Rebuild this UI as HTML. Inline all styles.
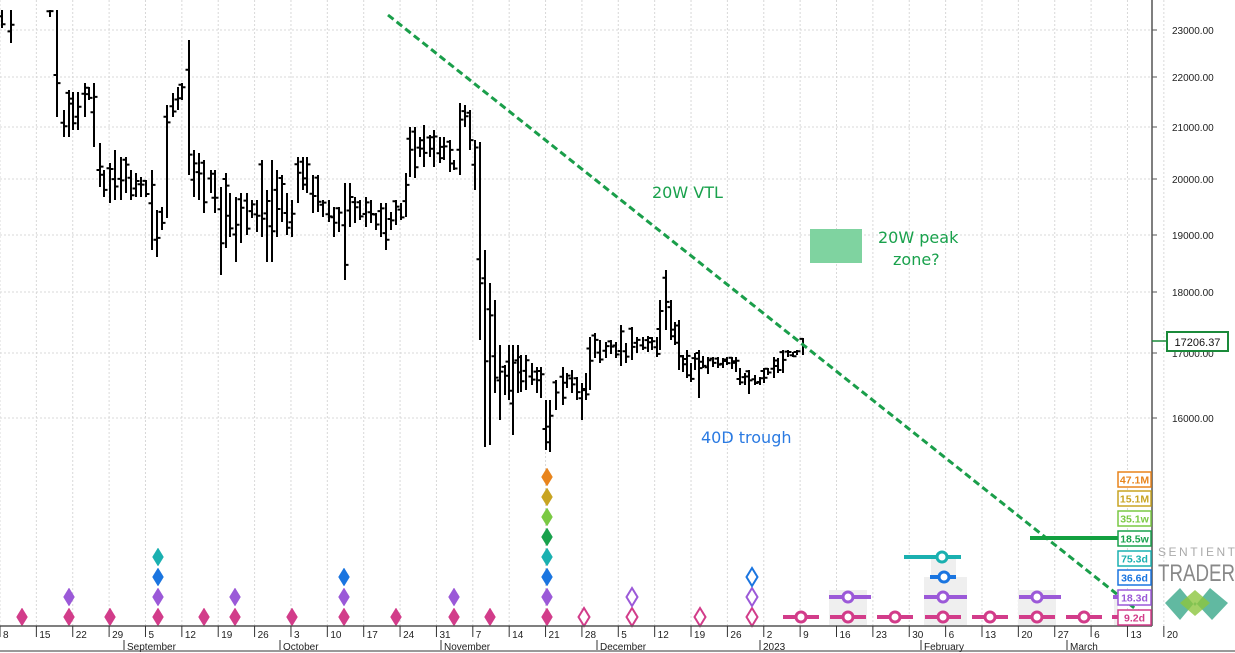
<!DOCTYPE html>
<html><head><meta charset="utf-8"><style>
html,body{margin:0;padding:0;background:#fff;}
svg{display:block;font-family:"Liberation Sans",sans-serif;}
.an{font-family:"DejaVu Sans","Liberation Sans",sans-serif;font-size:16px;}
</style></head><body>
<svg id="s" width="1235" height="653" viewBox="0 0 1235 653" xmlns="http://www.w3.org/2000/svg">
<defs><clipPath id="pc"><rect x="0" y="10" width="1152" height="616"/></clipPath></defs>
<g id="grid"></g>
<g id="shade" fill="#efefef"></g>
<rect x="810" y="229" width="52" height="34" fill="#7fd3a0"/>
<g id="bars" clip-path="url(#pc)" stroke="#000" stroke-width="2" fill="none"></g>
<line x1="388" y1="15" x2="1152" y2="622" stroke="#1a9e4a" stroke-width="3" stroke-dasharray="7,4"/>
<text class="an" x="652" y="198" fill="#19a14c">20W VTL</text>
<text class="an" x="878" y="243" fill="#19a14c">20W peak</text>
<text class="an" x="893" y="265" fill="#19a14c">zone?</text>
<text class="an" x="701" y="443" fill="#2a7ae2">40D trough</text>
<g id="cyc"></g>
<line x1="1030" y1="538" x2="1118" y2="538" stroke="#12a040" stroke-width="4"/>
<line x1="1152" y1="0" x2="1152" y2="626" stroke="#555" stroke-width="1.5"/>
<line x1="0" y1="626" x2="1152" y2="626" stroke="#555" stroke-width="1.5"/>
<line x1="0" y1="651" x2="1235" y2="651" stroke="#999" stroke-width="2"/>
<g id="axis" font-size="10" fill="#222"></g>
<line x1="1152" y1="341" x2="1167" y2="341" stroke="#1a8a3a" stroke-width="1.5"/>
<rect x="1167" y="332" width="61" height="19" fill="#fff" stroke="#1a8a3a" stroke-width="2"/>
<text x="1197.5" y="346" font-size="11" text-anchor="middle" fill="#111">17206.37</text>
<g id="labs" font-size="10.5" font-weight="bold" text-anchor="middle"></g>
<text x="1158" y="556" font-size="12" fill="#aaa" textLength="77">SENTIENT</text>
<text x="1158" y="581" font-size="24" fill="#888" textLength="77" lengthAdjust="spacingAndGlyphs">TRADER</text>
<polygon points="1165,603 1180,588 1195,606 1210,588 1228,603 1212,620 1195,602 1180,620" fill="#3aa88a" opacity="0.8"/>
<polygon points="1180,603 1195,590 1210,603 1195,616" fill="#8cc63f" opacity="0.8"/>
</svg>
<script>
const NS="http://www.w3.org/2000/svg";
function el(p,t,a,txt){const e=document.createElementNS(NS,t);for(const k in a)e.setAttribute(k,a[k]);if(txt!==undefined)e.textContent=txt;document.getElementById(p).appendChild(e);return e;}
const W=36.37;
for(let i=0;i<=32;i++){const x=i*W;el('grid','line',{x1:x,y1:0,x2:x,y2:626,stroke:'#d8d8d8','stroke-dasharray':'2,2','stroke-width':1});}
const lv=[[23000,30],[22000,77],[21000,127],[20000,179],[19000,235],[18000,292],[17000,353],[16000,418]];
lv.forEach(([v,y])=>{el('grid','line',{x1:0,y1:y,x2:1152,y2:y,stroke:'#d8d8d8','stroke-dasharray':'2,2'});
el('axis','line',{x1:1152,y1:y,x2:1157,y2:y,stroke:'#555'});
el('axis','text',{x:1172,y:y+4},v.toFixed(2));});
const days=['8','15','22','29','5','12','19','26','3','10','17','24','31','7','14','21','28','5','12','19','26','2','9','16','23','30','6','13','20','27','6','13','20'];
days.forEach((d,i)=>{const x=i*W;el('axis','line',{x1:x,y1:626,x2:x,y2:637,stroke:'#333'});el('axis','text',{x:x+3,y:638},d);});
[['September',124],['October',280],['November',441],['December',597],['2023',760],['February',921],['March',1067]].forEach(([m,x])=>{
el('axis','line',{x1:x,y1:640,x2:x,y2:650,stroke:'#333'});el('axis','text',{x:x+3,y:650},m);});
const B=[[2,10,28],[11,10,43],[18,-20,5],[25,-20,5],[32,-20,5],[39,-20,5],[45,-20,5],[50,10,17],[57,10,117],
[64,110,137],[69,90,137],[73,92,130],[78,92,130],[85,83,117],[89,87,100],[94,83,147],[100,143,187],[104,170,197],[110,163,203],[115,150,200],[121,157,200],[126,157,193],[131,170,200],[136,173,197],[141,177,197],[146,180,197],[152,170,250],[157,210,257],[162,207,230],[167,105,218],[173,93,117],[178,87,110],[182,83,100],[189,40,175],[194,150,197],[199,153,200],[204,160,213],[211,170,193],[215,170,213],[221,187,275],[226,173,248],[230,193,237],[236,197,262],[241,193,243],[247,193,235],[252,200,218],[257,200,232],[262,160,237],[267,190,262],[272,160,262],[277,170,237],[282,175,222],[287,193,235],[292,200,237],[298,157,203],[303,157,190],[307,157,193],[313,175,213],[318,175,212],[323,200,217],[329,200,222],[334,207,237],[339,207,232],[345,183,280],[350,183,227],[355,197,223],[360,200,220],[366,197,227],[371,200,223],[376,213,230],[381,203,237],[386,203,250],[391,212,230],[396,200,225],[401,203,220],[406,173,217],[410,127,177],[415,127,178],[420,137,157],[424,125,167],[430,135,157],[434,130,167],[440,137,163],[444,137,160],[450,140,172],[454,160,170],[460,103,175],[465,105,127],[470,110,150],[475,140,190],
[480,142,340],[485,250,447],[490,283,445],[495,300,393],[500,345,420],[505,365,395],[509,345,400],[513,345,435],[518,345,393],[521,355,392],[526,355,390],[532,363,385],[537,367,393],[541,367,398],[546,400,450],[550,400,452],[556,380,410],[563,367,405],[567,373,388],[572,370,393],[577,377,400],[582,383,420],[586,373,400],[590,337,390],[595,333,358],[600,340,363],[606,342,358],[611,340,354],[616,342,358],[621,325,366],[626,343,363],[632,327,360],[637,337,353],[643,337,350],[648,336,352],[652,337,350],[657,337,357],[660,300,350],[666,270,330],[671,300,340],[675,322,345],[679,320,370],[683,355,372],[687,350,378],[691,363,382],[695,353,370],[699,350,398],[703,356,368],[708,357,374],[713,357,367],[718,357,368],[723,358,368],[727,357,365],[732,357,369],[736,357,372],[740,368,385],[745,373,385],[749,370,394],[755,375,385],[760,377,385],[764,368,383],[768,368,375],[774,357,378],[778,358,373],[783,350,373],[788,350,357],[793,352,357],[797,350,355],[803,338,355]];
let d='';
B.forEach(([x,h,l],i)=>{const r=l-h;const o=h+r*(0.35+0.3*Math.sin(i*1.7));const c=h+r*(0.5+0.35*Math.sin(i*2.3+1));
d+=`M${x} ${h}V${l}M${x-3.5} ${o.toFixed(1)}H${x}M${x} ${c.toFixed(1)}H${x+3.5}`;});
el('bars','path',{d:d});
const C={or:'#e8841c',go:'#c8a422',lg:'#7ac943',gr:'#19a14c',te:'#1ab0b0',bl:'#1a75e0',pu:'#9b59d8',ma:'#d23c8a'};
const rowY={ma:617,pu:597,bl:577,te:557,gr:537,lg:517,go:497,or:477};
function dia(x,k,hollow){const y=rowY[k];el('cyc','polygon',{points:`${x},${y-9} ${x+5.5},${y} ${x},${y+9} ${x-5.5},${y}`,fill:hollow?'#fff':C[k],stroke:C[k],'stroke-width':hollow?2:0.5});}
[22,69,110,158,204,235,292,344,396,454,490,547].forEach(x=>dia(x,'ma'));
[69,158,235,344,454,547].forEach(x=>dia(x,'pu'));
[158,344,547].forEach(x=>dia(x,'bl'));
[158,547].forEach(x=>dia(x,'te'));
['gr','lg','go','or'].forEach(k=>dia(547,k));
dia(584,'ma',1);dia(632,'ma',1);dia(632,'pu',1);dia(700,'ma',1);dia(752,'ma',1);dia(752,'pu',1);dia(752,'bl',1);
[[829,590,38,35],[924,577,43,48],[931,559,25,20],[1018,590,38,35],[1114,590,4,35]].forEach(([x,y,w,h])=>el('shade','rect',{x:x,y:y,width:w,height:h}));
function cyc(cx,k,x1,x2){const y=rowY[k];el('cyc','line',{x1:x1,y1:y,x2:Math.min(x2,1118),y2:y,stroke:C[k],'stroke-width':4});
if(cx<1115)el('cyc','circle',{cx:cx,cy:y,r:5,fill:'#fff',stroke:C[k],'stroke-width':3});}
[801,848,895,943,990,1037,1084].forEach(x=>cyc(x,'ma',x-18,x+18));cyc(1130,'ma',1112,1148);
cyc(848,'pu',829,871);cyc(943,'pu',924,967);cyc(1037,'pu',1019,1061);cyc(1130,'pu',1113,1150);
cyc(944,'bl',930,956);cyc(942,'te',904,961);
[['47.1M','or',472],['15.1M','go',491],['35.1w','lg',511],['18.5w','gr',531],['75.3d','te',551],['36.6d','bl',570],['18.3d','pu',590],['9.2d','ma',610]].forEach(([t,k,y])=>{
el('labs','rect',{x:1118,y:y,width:33,height:15,fill:'#fff',stroke:C[k],'stroke-width':1.5});
el('labs','text',{x:1134.5,y:y+11.5,fill:C[k]},t);});
</script>
</body></html>
